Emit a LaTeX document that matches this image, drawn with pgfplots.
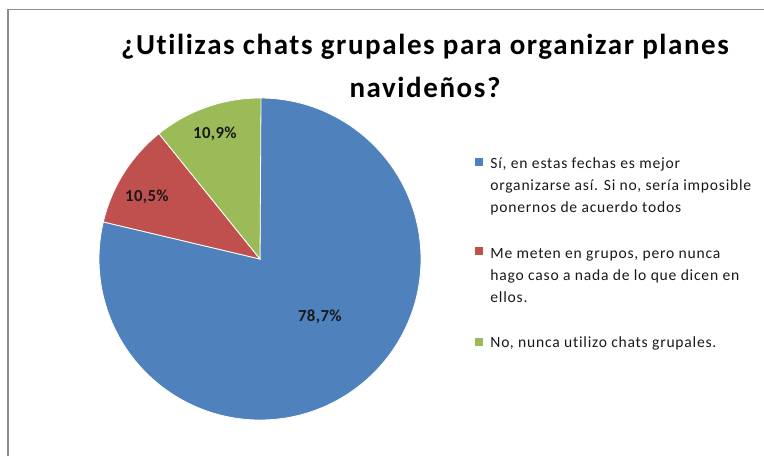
\documentclass[border=0pt]{standalone}
\usepackage{fontspec}
\setmainfont{Carlito}[Ligatures=NoCommon]
\usepackage{pgfplots}
\usepackage{pgfplotstable}
\pgfplotsset{compat=1.18}

\definecolor{pieblue}{HTML}{4F81BD}
\definecolor{piered}{HTML}{C0504D}
\definecolor{piegreen}{HTML}{9BBB59}
\definecolor{framegray}{HTML}{8C8C8C}

% share of answers, in percent, clockwise from 12 o'clock
\pgfplotstableread{
answer value
si     78.7
meten  10.5
no     10.9
}\piedata

\newcommand\legfont{\fontsize{7.8pt}{9pt}\selectfont\addfontfeature{LetterSpace=5}}
\newcommand\titfont{\fontsize{14.5pt}{16pt}\selectfont\bfseries\addfontfeature{LetterSpace=5.5}}

\begin{document}
\begin{tikzpicture}
% slice angles from the table
\pgfplotstablegetelem{0}{value}\of\piedata \pgfmathsetmacro\va{\pgfplotsretval}
\pgfplotstablegetelem{1}{value}\of\piedata \pgfmathsetmacro\vb{\pgfplotsretval}
\pgfplotstablegetelem{2}{value}\of\piedata \pgfmathsetmacro\vc{\pgfplotsretval}
\pgfmathsetmacro\aA{90}
\pgfmathsetmacro\aB{\aA-3.6*\va}
\pgfmathsetmacro\aC{\aB-3.6*\vb}
\pgfmathsetmacro\aD{\aC-3.6*\vc}

\begin{scope}[x=0.5pt,y=-0.5pt]
\path[use as bounding box] (0,0) rectangle (764,456);
\draw[framegray, line width=0.7pt] (8,456) -- (8,9.5) -- (764,9.5);
\node[font=\titfont] at (425,47) {¿Utilizas chats grupales para organizar planes};
\node[font=\titfont] at (425,87) {navideños?};

\fill[pieblue]  (475,158) rectangle (483,166);
\fill[piered]   (475,247) rectangle (483,255);
\fill[piegreen] (475,338) rectangle (483,346);
\begin{scope}[every node/.style={anchor=base west, inner sep=0pt, font=\legfont, text=black!90}]
\node at (490,168) {Sí, en estas fechas es mejor};
\node at (490,190) {organizarse así. Si no, sería imposible};
\node at (490,212) {ponernos de acuerdo todos};
\node at (490,258) {Me meten en grupos, pero nunca};
\node at (490,280) {hago caso a nada de lo que dicen en};
\node at (490,302) {ellos.};
\node at (490,347) {No, nunca utilizo chats grupales.};
\end{scope}
\end{scope}

\begin{axis}[at={(130pt,-129.5pt)}, anchor=center, scale only axis,
    width=161pt, height=161pt, xmin=-1, xmax=1, ymin=-1, ymax=1, hide axis]
\fill[pieblue, draw=white, line width=0.4pt] (axis cs:0,0) -- (axis cs:{cos(\aA)},{sin(\aA)}) arc[start angle=\aA, end angle=\aB, radius=80.5pt] -- cycle;
\fill[piered, draw=white, line width=0.4pt] (axis cs:0,0) -- (axis cs:{cos(\aB)},{sin(\aB)}) arc[start angle=\aB, end angle=\aC, radius=80.5pt] -- cycle;
\fill[piegreen, draw=white, line width=0.4pt] (axis cs:0,0) -- (axis cs:{cos(\aC)},{sin(\aC)}) arc[start angle=\aC, end angle=\aD, radius=80.5pt] -- cycle;
\begin{scope}[every node/.style={font=\fontsize{8.4pt}{9pt}\selectfont\bfseries\addfontfeature{LetterSpace=2}, text=black!90}]
\node at (axis cs:0.372,-0.360) {78,7\%};
\node at (axis cs:-0.702,0.385) {10,5\%};
\node at (axis cs:-0.280,0.776) {10,9\%};
\end{scope}
\end{axis}
\end{tikzpicture}
\end{document}
